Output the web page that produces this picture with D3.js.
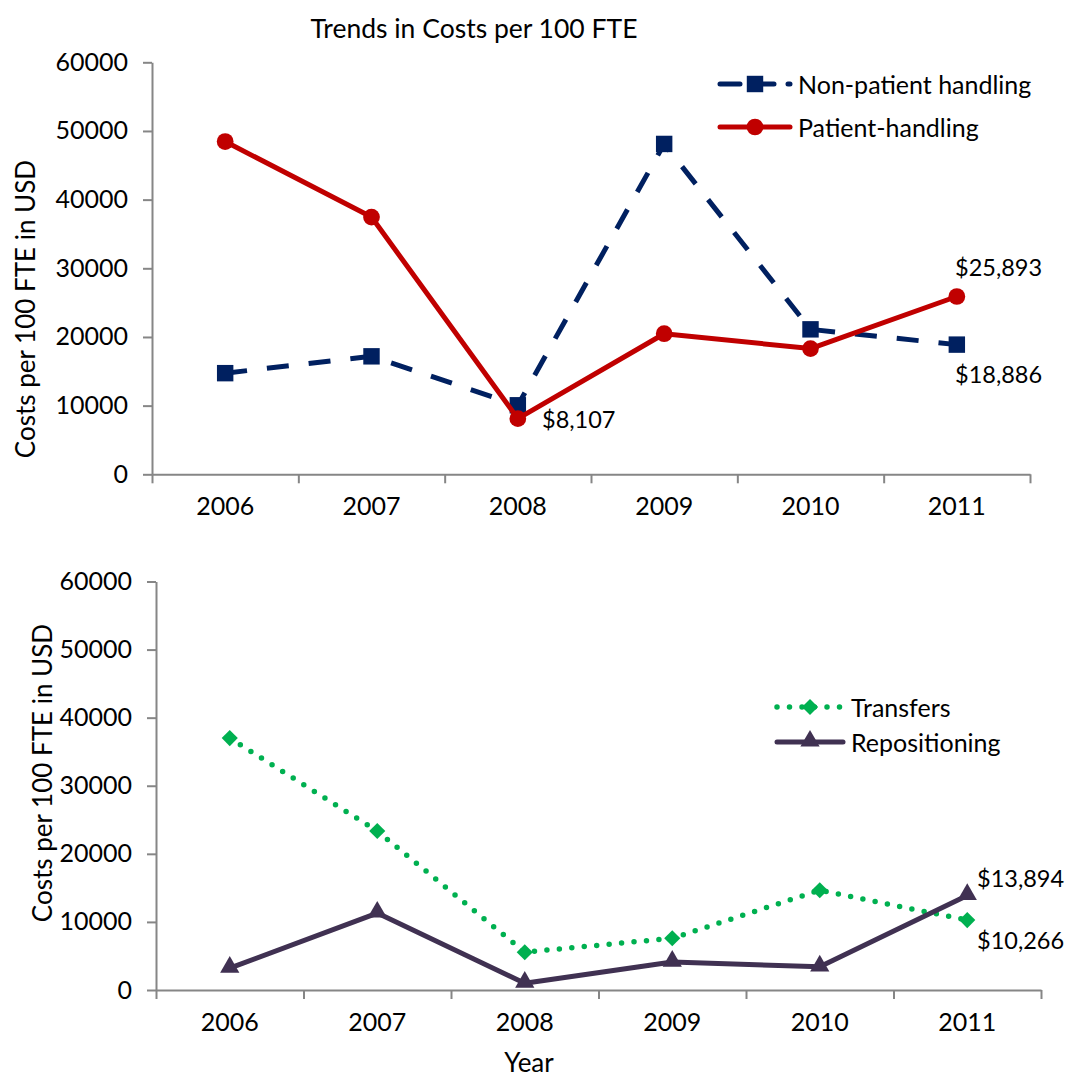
<!DOCTYPE html>
<html>
<head>
<meta charset="utf-8">
<script src="https://cdn.jsdelivr.net/npm/d3@7"></script>
<style>
  body { margin: 0; background: #fff; }
  svg text { font-family: Lato, "Open Sans", sans-serif; fill: #000; }
  .axis path, .axis line { stroke: #868686; stroke-width: 2; }
  .axis text { font-size: 25px; }
</style>
</head>
<body>
<svg id="chart" width="1068" height="1078"></svg>
<script>
// ---- data ----
const years = ["2006", "2007", "2008", "2009", "2010", "2011"];
const yTicks = [0, 10000, 20000, 30000, 40000, 50000, 60000];

const nonPatient = [14730, 17180, 10050, 48110, 21110, 18886];
const patient    = [48460, 37460, 8107, 20470, 18310, 25893];
const transfers  = [37000, 23350, 5550, 7600, 14650, 10266];
const reposition = [3200, 11300, 1000, 4100, 3400, 13894];

const svg = d3.select("#chart");

// builds one panel: axes + scales, returns scales
function buildPanel(box) {
  const x = d3.scaleBand().domain(years).range([box.left, box.right]).padding(0);
  const y = d3.scaleLinear().domain([0, 60000]).range([box.bottom, box.top]);

  // y axis
  svg.append("g").attr("class", "axis")
    .attr("transform", `translate(${box.left},0)`)
    .call(d3.axisLeft(y).tickValues(yTicks).tickFormat(d3.format("d")).tickSize(9).tickSizeOuter(0).tickPadding(15));

  // x axis marks between categories
  const xb = d3.scaleLinear().domain([0, years.length]).range([box.left, box.right]);
  svg.append("g").attr("class", "axis")
    .attr("transform", `translate(0,${box.bottom})`)
    .call(d3.axisBottom(xb).ticks(years.length).tickFormat("").tickSize(9).tickSizeOuter(0));

  // x labels at category centres
  svg.append("g").attr("class", "axis")
    .attr("transform", `translate(0,${box.bottom})`)
    .call(d3.axisBottom(x).tickSize(0).tickPadding(23))
    .call(g => g.select(".domain").remove());

  svg.append("text")
    .attr("transform", `translate(${box.labelX},${box.labelY}) rotate(-90)`)
    .attr("text-anchor", "middle").attr("dominant-baseline", "central")
    .style("font-size", "26px")
    .text("Costs per 100 FTE in USD");

  return { x, y };
}

function drawSeries(sc, values, opt) {
  const pts = values.map((v, i) => [sc.x(years[i]) + sc.x.bandwidth() / 2, sc.y(v)]);
  svg.append("path")
    .attr("d", d3.line()(pts))
    .attr("fill", "none")
    .attr("stroke", opt.color)
    .attr("stroke-width", opt.width)
    .attr("stroke-dasharray", opt.dash || null)
    .attr("stroke-linecap", opt.cap || "butt")
    .attr("stroke-linejoin", "round");
  svg.append("g").selectAll("path")
    .data(pts).enter().append("path")
    .attr("transform", d => `translate(${d[0]},${d[1] + (opt.dy || 0)}) rotate(${opt.rot || 0})`)
    .attr("d", d3.symbol().type(opt.symbol).size(opt.size))
    .attr("fill", opt.color);
}

function legendItem(x0, x1, y, opt, label) {
  svg.append("line")
    .attr("x1", x0).attr("x2", x1).attr("y1", y).attr("y2", y)
    .attr("stroke", opt.color).attr("stroke-width", opt.width)
    .attr("stroke-dasharray", opt.dash || null)
    .attr("stroke-linecap", opt.cap || "round");
  svg.append("path")
    .attr("transform", `translate(${(x0 + x1) / 2},${y + (opt.dy || 0)}) rotate(${opt.rot || 0})`)
    .attr("d", d3.symbol().type(opt.symbol).size(opt.size))
    .attr("fill", opt.color);
  svg.append("text").attr("x", x1 + 8).attr("y", y)
    .attr("dominant-baseline", "central").style("font-size", "25px").text(label);
}

function note(x, y, txt) {
  svg.append("text").attr("x", x).attr("y", y)
    .attr("dominant-baseline", "central").style("font-size", "23.5px").text(txt);
}

// ---- top panel ----
const topPanel = buildPanel({ left: 152, right: 1030, top: 62.3, bottom: 474.3, labelX: 25, labelY: 309 });

svg.append("text").attr("x", 474).attr("y", 28)
  .attr("text-anchor", "middle").attr("dominant-baseline", "central")
  .style("font-size", "26.5px").text("Trends in Costs per 100 FTE");

const styleNon = { color: "#002060", width: 5, dash: "22,20", symbol: d3.symbolSquare, size: 270 };
const stylePat = { color: "#C00000", width: 5, symbol: d3.symbolCircle, size: 220 };

drawSeries(topPanel, nonPatient, styleNon);
drawSeries(topPanel, patient, stylePat);

legendItem(720, 790, 84, Object.assign({}, styleNon, { dash: "20,14" }), "Non-patient handling");
legendItem(720, 790, 127, stylePat, "Patient-handling");

note(542, 419, "$8,107");
note(955, 267, "$25,893");
note(955, 374, "$18,886");

// ---- bottom panel ----
const botPanel = buildPanel({ left: 156, right: 1041, top: 581.5, bottom: 990, labelX: 42, labelY: 773 });

const styleTr = { color: "#00B050", width: 5.5, dash: "0,12.5", cap: "round", symbol: d3.symbolSquare, size: 130, rot: 45 };
const styleRe = { color: "#403152", width: 5, symbol: d3.symbolTriangle, size: 160, dy: -1 };

drawSeries(botPanel, transfers, styleTr);
drawSeries(botPanel, reposition, styleRe);

legendItem(777, 843, 707, styleTr, "Transfers");
legendItem(777, 843, 742, styleRe, "Repositioning");

note(977, 878, "$13,894");
note(977, 940, "$10,266");

svg.append("text").attr("x", 529).attr("y", 1062)
  .attr("text-anchor", "middle").attr("dominant-baseline", "central")
  .style("font-size", "26px").text("Year");
</script>
</body>
</html>
